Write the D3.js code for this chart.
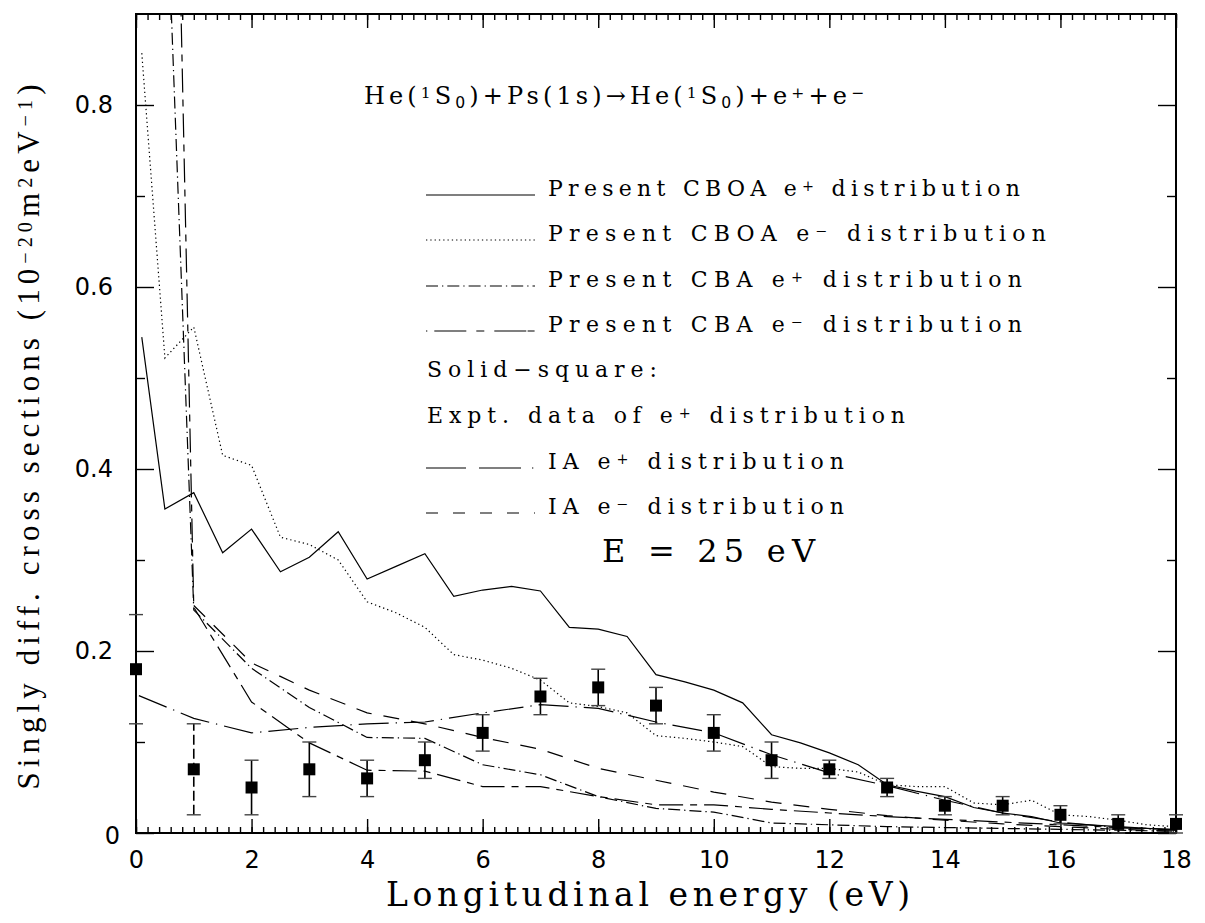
<!DOCTYPE html>
<html>
<head>
<meta charset="utf-8">
<script src="https://cdn.jsdelivr.net/npm/d3@7"></script>
<style>
  body { margin: 0; background: #fff; }
</style>
</head>
<body>
<svg id="chart"></svg>
<script>
// Present CBOA distributions (0.5 eV steps)
const cboaX = [0.1, 0.5, 1, 1.5, 2, 2.5, 3, 3.5, 4, 4.5, 5, 5.5, 6, 6.5, 7, 7.5, 8, 8.5, 9, 9.5,
  10, 10.5, 11, 11.5, 12, 12.5, 13, 13.5, 14, 14.5, 15, 15.5, 16, 16.5, 17, 17.5, 18];
const cboaPos = [0.545, 0.356, 0.374, 0.308, 0.334, 0.287, 0.303, 0.331, 0.279, 0.293, 0.307, 0.260,
  0.267, 0.271, 0.266, 0.226, 0.224, 0.216, 0.174, 0.166, 0.157, 0.143, 0.108, 0.099, 0.088, 0.075,
  0.053, 0.046, 0.040, 0.028, 0.022, 0.018, 0.011, 0.009, 0.007, 0.005, 0.003];
const cboaNeg = [0.857, 0.522, 0.556, 0.415, 0.404, 0.325, 0.317, 0.300, 0.254, 0.242, 0.226, 0.196,
  0.190, 0.181, 0.168, 0.143, 0.139, 0.132, 0.107, 0.104, 0.100, 0.095, 0.073, 0.071, 0.071, 0.067,
  0.053, 0.051, 0.051, 0.033, 0.031, 0.036, 0.020, 0.018, 0.014, 0.009, 0.007];

// Present CBA distributions
const cbaX = [0.5, 1, 2, 3, 4, 5, 6, 7, 8, 9, 10, 11, 12, 13, 14, 15, 16, 17, 18];
const cbaPos = [1.09, 0.245, 0.181, 0.138, 0.105, 0.104, 0.075, 0.064, 0.040, 0.027, 0.023, 0.011,
  0.009, 0.007, 0.006, 0.005, 0.004, 0.003, 0.002];
const cbaNeg = [1.73, 0.248, 0.144, 0.099, 0.069, 0.068, 0.051, 0.051, 0.040, 0.031, 0.031, 0.026,
  0.022, 0.018, 0.015, 0.012, 0.009, 0.006, 0.004];

// IA distributions
const iaPosX = [0.05, 1, 2, 3, 4, 5, 6, 7, 8, 9, 10, 11, 12, 13, 14, 15, 16, 17, 18];
const iaPos = [0.151, 0.126, 0.110, 0.116, 0.120, 0.122, 0.132, 0.141, 0.137, 0.122, 0.110, 0.086,
  0.066, 0.052, 0.036, 0.022, 0.012, 0.006, 0.003];
const iaNegX = [1, 2, 3, 4, 5, 6, 7, 8, 9, 10, 11, 12, 13, 14, 15, 16, 17, 18];
const iaNeg = [0.250, 0.187, 0.157, 0.132, 0.120, 0.105, 0.092, 0.071, 0.058, 0.045, 0.034, 0.026,
  0.019, 0.014, 0.010, 0.007, 0.004, 0.002];

// experiment (solid squares)
const exptX = [0, 1, 2, 3, 4, 5, 6, 7, 8, 9, 10, 11, 12, 13, 14, 15, 16, 17, 18];
const exptY = [0.18, 0.07, 0.05, 0.07, 0.06, 0.08, 0.11, 0.15, 0.16, 0.14, 0.11, 0.08, 0.07, 0.05,
  0.03, 0.03, 0.02, 0.01, 0.01];
const exptErr = [0.06, 0.05, 0.03, 0.03, 0.02, 0.02, 0.02, 0.02, 0.02, 0.02, 0.02, 0.02, 0.01, 0.01,
  0.01, 0.01, 0.01, 0.01, 0.01];

const xTicks = [0, 2, 4, 6, 8, 10, 12, 14, 16, 18];
const xTickLabels = ['0', '2', '4', '6', '8', '10', '12', '14', '16', '18'];
const yTicks = [0, 0.2, 0.4, 0.6, 0.8];
const yTickLabels = ['0', '0.2', '0.4', '0.6', '0.8'];

const legendRows = [
  { label: 'Present CBOA e', sup: '+', tail: ' distribution', dash: null, len: 472 },
  { label: 'Present CBOA e', sup: '\u2212', tail: ' distribution', dash: '1.3,3', len: 498 },
  { label: 'Present CBA e', sup: '+', tail: ' distribution', dash: '12,4,1.3,4', len: 474 },
  { label: 'Present CBA e', sup: '\u2212', tail: ' distribution', dash: '1.3,7,32,10,8,10,32', len: 474 },
  { label: 'IA e', sup: '+', tail: ' distribution', dash: '40,13,42,11,1.3', len: 296 },
  { label: 'IA e', sup: '\u2212', tail: ' distribution', dash: '12,15', len: 296 }
];

const width = 1205, height = 923;
const svg = d3.select('#chart').attr('width', width).attr('height', height);

const x = d3.scaleLinear().domain([0, 18]).range([136, 1176]);
const y = d3.scaleLinear().domain([0, 0.9]).range([833, 14]);

svg.append('defs').append('clipPath').attr('id', 'plot')
  .append('rect')
  .attr('x', x(0)).attr('y', y(0.9))
  .attr('width', x(18) - x(0)).attr('height', y(0) - y(0.9));

// axes, ticks pointing inward on all four sides
const tickFont = g => g.attr('font-family', 'DejaVu Sans').attr('font-size', 24).attr('fill', '#000')
  .call(g => g.select('.domain').remove())
  .call(g => g.selectAll('line').attr('stroke', '#000').attr('stroke-width', 1.4));

svg.append('g').attr('transform', `translate(0,${y(0)})`)
  .call(d3.axisBottom(x).tickValues(xTicks).tickSize(-14).tickPadding(18)
    .tickFormat((d, i) => xTickLabels[i]))
  .call(tickFont);
svg.append('g').attr('transform', `translate(0,${y(0)})`)
  .call(d3.axisBottom(x).tickValues(d3.range(0, 18.01, 0.2)).tickSize(-6).tickFormat(''))
  .call(tickFont);
svg.append('g').attr('transform', `translate(0,${y(0.9)})`)
  .call(d3.axisTop(x).tickValues(xTicks).tickSize(-14).tickFormat(''))
  .call(tickFont);
svg.append('g').attr('transform', `translate(0,${y(0.9)})`)
  .call(d3.axisTop(x).tickValues(d3.range(0, 18.01, 0.2)).tickSize(-6).tickFormat(''))
  .call(tickFont);

svg.append('g').attr('transform', `translate(${x(0)},0)`)
  .call(d3.axisLeft(y).tickValues(yTicks).tickSize(-18).tickPadding(23)
    .tickFormat((d, i) => yTickLabels[i]))
  .call(tickFont)
  .call(g => g.selectAll('text').filter(d => d === 0).attr('dx', 7).attr('dy', '0.45em'));
svg.append('g').attr('transform', `translate(${x(0)},0)`)
  .call(d3.axisLeft(y).tickValues(d3.range(0.1, 0.9, 0.2)).tickSize(-9).tickFormat(''))
  .call(tickFont);
svg.append('g').attr('transform', `translate(${x(18)},0)`)
  .call(d3.axisRight(y).tickValues(yTicks).tickSize(-18).tickFormat(''))
  .call(tickFont);
svg.append('g').attr('transform', `translate(${x(18)},0)`)
  .call(d3.axisRight(y).tickValues(d3.range(0.1, 0.9, 0.2)).tickSize(-9).tickFormat(''))
  .call(tickFont);

svg.append('rect')
  .attr('x', x(0)).attr('y', y(0.9))
  .attr('width', x(18) - x(0)).attr('height', y(0) - y(0.9))
  .attr('fill', 'none').attr('stroke', '#000').attr('stroke-width', 2);

// curves
const line = d3.line().x(d => x(d[0])).y(d => y(d[1]));
const curves = [
  { xs: cboaX, ys: cboaPos, dash: null },
  { xs: cboaX, ys: cboaNeg, dash: '1.3,3' },
  { xs: cbaX, ys: cbaPos, dash: '12,4,1.3,4' },
  { xs: cbaX, ys: cbaNeg, dash: '24,7,7,7' },
  { xs: iaPosX, ys: iaPos, dash: '30,7,1.3,7' },
  { xs: iaNegX, ys: iaNeg, dash: '16,12' }
];
const gCurves = svg.append('g').attr('clip-path', 'url(#plot)');
curves.forEach(c => {
  gCurves.append('path')
    .datum(c.xs.map((v, i) => [v, c.ys[i]]))
    .attr('d', line)
    .attr('fill', 'none')
    .attr('stroke', '#000')
    .attr('stroke-width', 1.2)
    .attr('stroke-dasharray', c.dash);
});

// experimental points with error bars
const expt = exptX.map((v, i) => ({ x: v, y: exptY[i], e: exptErr[i] }));
const gPts = svg.append('g');
gPts.selectAll('line.bar').data(expt).enter().append('line')
  .attr('x1', d => x(d.x)).attr('x2', d => x(d.x))
  .attr('y1', d => y(d.y - d.e)).attr('y2', d => y(d.y + d.e))
  .attr('stroke', '#000').attr('stroke-width', 1.6)
  .attr('stroke-dasharray', d => d.x === 1 ? '10,4' : null);
[-1, 1].forEach(s => {
  gPts.selectAll(null).data(expt).enter().append('line')
    .attr('x1', d => x(d.x) - 7).attr('x2', d => x(d.x) + 7)
    .attr('y1', d => y(d.y + s * d.e)).attr('y2', d => y(d.y + s * d.e))
    .attr('stroke', '#444').attr('stroke-width', 1.4);
});
gPts.selectAll('rect').data(expt).enter().append('rect')
  .attr('x', d => x(d.x) - 6).attr('y', d => y(d.y) - 6)
  .attr('width', 12).attr('height', 12).attr('fill', '#000');

// text
function richText(g, parts, opts) {
  const t = g.append('text')
    .attr('x', opts.x).attr('y', opts.y)
    .attr('font-family', opts.font || 'DejaVu Serif').attr('font-size', opts.size).attr('fill', '#000');
  if (opts.len) t.attr('textLength', opts.len).attr('lengthAdjust', 'spacing');
  if (opts.anchor) t.attr('text-anchor', opts.anchor);
  parts.forEach(p => {
    const s = t.append('tspan').text(p.t);
    if (p.sup) s.attr('baseline-shift', '35%').attr('font-size', opts.size * 0.65);
    if (p.sub) s.attr('baseline-shift', '-25%').attr('font-size', opts.size * 0.65)
      .attr('font-family', 'DejaVu Sans');
  });
  return t;
}

richText(svg, [
  { t: 'He(' }, { t: '1', sup: true }, { t: 'S' }, { t: '0', sub: true },
  { t: ')+Ps(1s)\u2192He(' }, { t: '1', sup: true }, { t: 'S' }, { t: '0', sub: true },
  { t: ')+e' }, { t: '+', sup: true }, { t: '+e' }, { t: '\u2212', sup: true }
], { x: 364, y: 104, size: 24, len: 500 });

const rowY = [196, 241, 287, 332, 377, 423, 469, 514];
const lineRows = [0, 1, 2, 3, 6, 7];
legendRows.forEach((r, i) => {
  const yy = rowY[lineRows[i]];
  svg.append('line')
    .attr('x1', 426).attr('x2', 535).attr('y1', yy - 1).attr('y2', yy - 1)
    .attr('stroke', '#000').attr('stroke-width', 1.2)
    .attr('stroke-dasharray', r.dash);
  richText(svg, [{ t: r.label }, { t: r.sup, sup: true }, { t: r.tail }],
    { x: 548, y: yy, size: 22, len: r.len });
});
richText(svg, [{ t: 'Solid\u2212square:' }], { x: 427, y: rowY[4], size: 22, len: 230 });
richText(svg, [{ t: 'Expt. data of e' }, { t: '+', sup: true }, { t: ' distribution' }],
  { x: 427, y: rowY[5], size: 22, len: 478 });
richText(svg, [{ t: 'E = 25 eV' }], { x: 602, y: 562, size: 32, len: 213 });

// axis titles
richText(svg, [{ t: 'Longitudinal energy (eV)' }], { x: 386, y: 906, size: 33, len: 524 });
const yt = richText(svg, [
  { t: 'Singly diff. cross sections (10' }, { t: '\u221220', sup: true }, { t: 'm' },
  { t: '2', sup: true }, { t: 'eV' }, { t: '\u22121', sup: true }, { t: ')' }
], { x: 0, y: 0, size: 31, len: 705, anchor: 'middle', font: 'Liberation Serif' });
yt.attr('transform', 'translate(39,437) rotate(-90)');
</script>
</body>
</html>
